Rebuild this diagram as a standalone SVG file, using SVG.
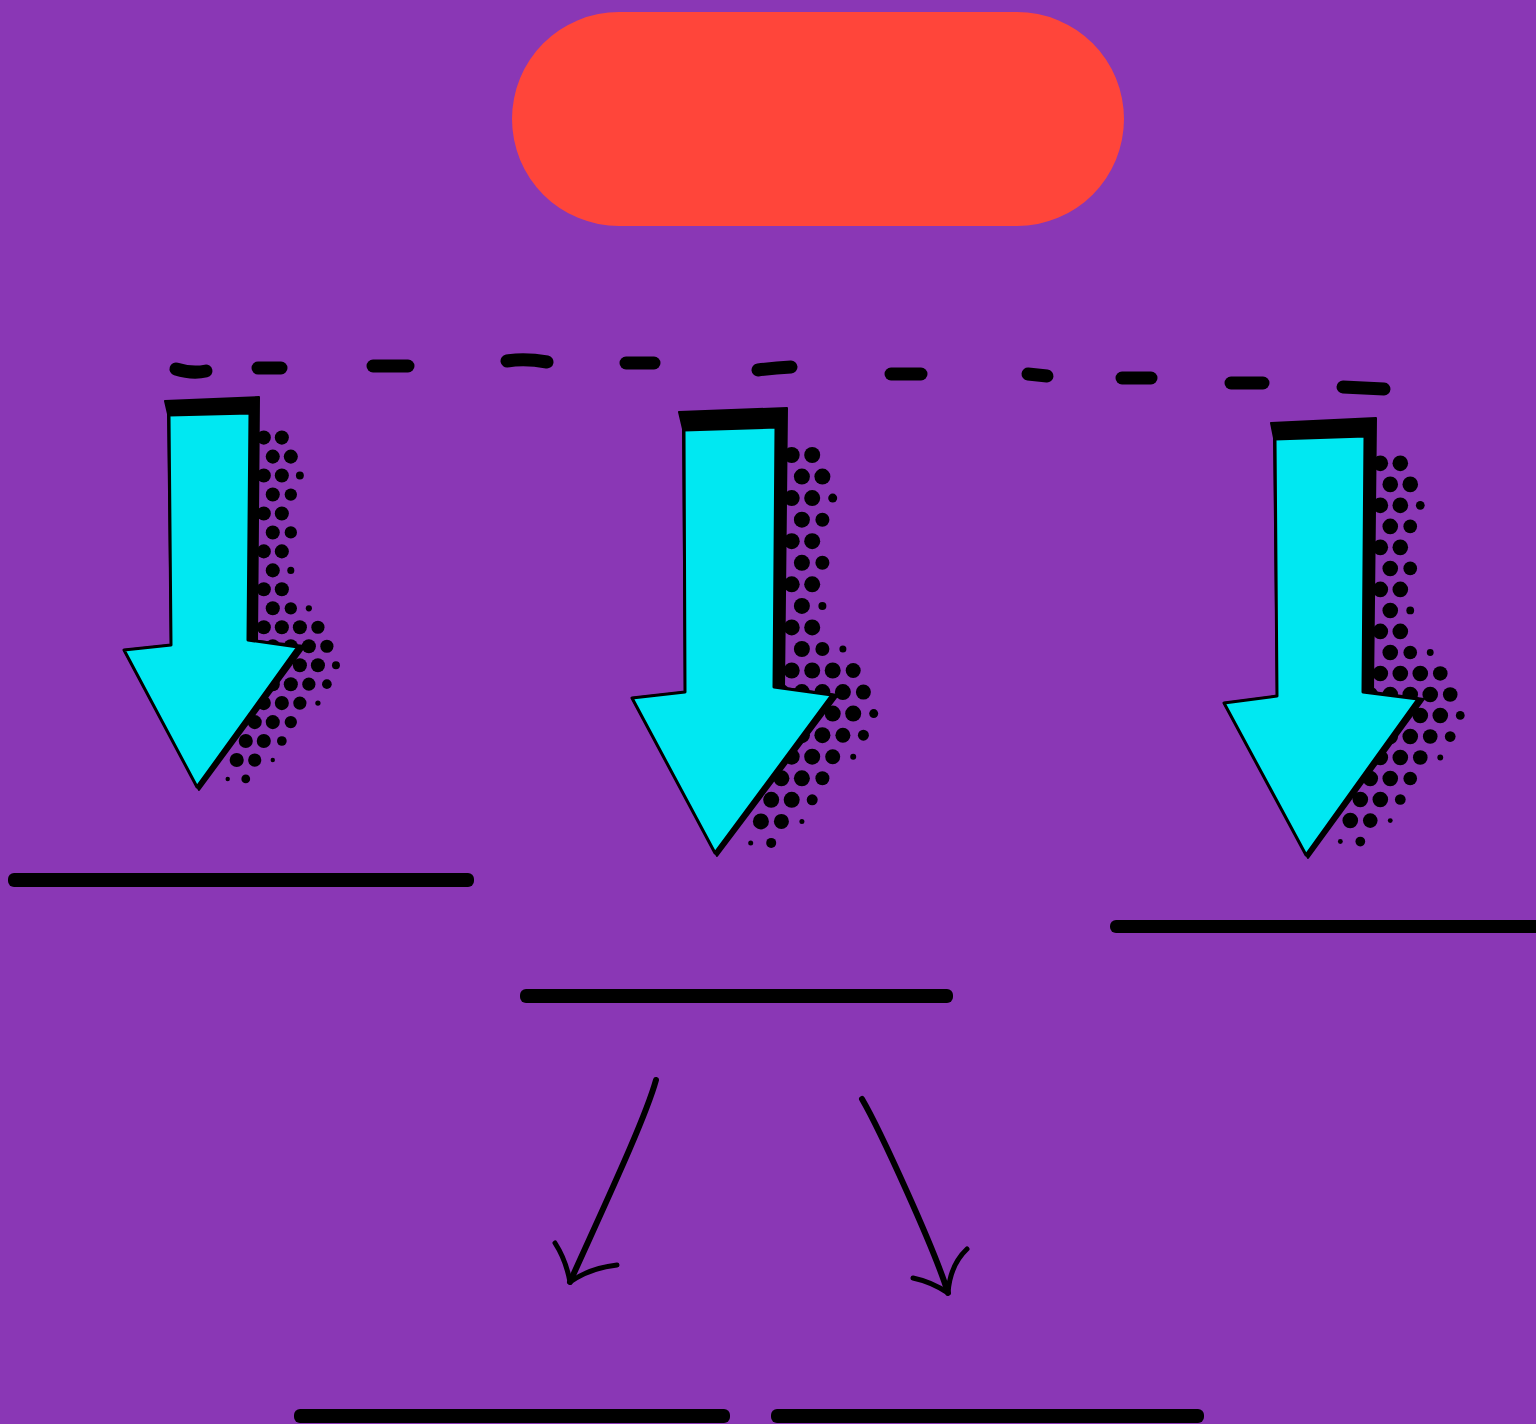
<svg xmlns="http://www.w3.org/2000/svg" xmlns:xlink="http://www.w3.org/1999/xlink" width="1536" height="1424" viewBox="0 0 1536 1424">
<style>
.bar{fill:#000}
.dash{fill:none;stroke:#000;stroke-width:13;stroke-linecap:round}
.back{fill:#000;stroke:#000;stroke-width:2;stroke-linejoin:round}
.cyan{fill:#00E8F2;stroke:#000;stroke-width:3;stroke-linejoin:round}
.ink{fill:none;stroke:#000;stroke-width:6;stroke-linecap:round;stroke-linejoin:round}
.inkb{fill:none;stroke:#000;stroke-width:5;stroke-linecap:round;stroke-linejoin:round}
</style>
<defs>
<g id="dots" fill="#000">
<circle cx="791.7" cy="455" r="8"/><circle cx="812.2" cy="455" r="8"/>
<circle cx="801.9" cy="476.6" r="8"/><circle cx="822.4" cy="476.6" r="8"/>
<circle cx="791.7" cy="498.1" r="8"/><circle cx="812.2" cy="498.1" r="8"/><circle cx="832.7" cy="498.1" r="4.5"/>
<circle cx="801.9" cy="519.7" r="8"/><circle cx="822.4" cy="519.7" r="7"/>
<circle cx="791.7" cy="541.2" r="8"/><circle cx="812.2" cy="541.2" r="8"/>
<circle cx="801.9" cy="562.8" r="8"/><circle cx="822.4" cy="562.8" r="7"/>
<circle cx="791.7" cy="584.3" r="8"/><circle cx="812.2" cy="584.3" r="8"/>
<circle cx="801.9" cy="605.9" r="8"/><circle cx="822.4" cy="605.9" r="4"/>
<circle cx="791.7" cy="627.4" r="8"/><circle cx="812.2" cy="627.4" r="8"/>
<circle cx="801.9" cy="649" r="8"/><circle cx="822.4" cy="649" r="7"/><circle cx="842.9" cy="649" r="3.5"/>
<circle cx="791.7" cy="670.5" r="8"/><circle cx="812.2" cy="670.5" r="8"/><circle cx="832.7" cy="670.5" r="8"/><circle cx="853.2" cy="670.5" r="7.5"/>
<circle cx="781.4" cy="692.1" r="8"/><circle cx="801.9" cy="692.1" r="8"/><circle cx="822.4" cy="692.1" r="8"/><circle cx="842.9" cy="692.1" r="8"/><circle cx="863.4" cy="692.1" r="7.5"/>
<circle cx="812.2" cy="713.6" r="8"/><circle cx="832.7" cy="713.6" r="8"/><circle cx="853.2" cy="713.6" r="8"/><circle cx="873.7" cy="713.6" r="4.5"/>
<circle cx="801.9" cy="735.2" r="8"/><circle cx="822.4" cy="735.2" r="8"/><circle cx="842.9" cy="735.2" r="7.5"/><circle cx="863.4" cy="735.2" r="5.5"/>
<circle cx="791.7" cy="756.7" r="8"/><circle cx="812.2" cy="756.7" r="8"/><circle cx="832.7" cy="756.7" r="7.5"/><circle cx="853.2" cy="756.7" r="3"/>
<circle cx="781.4" cy="778.3" r="8"/><circle cx="801.9" cy="778.3" r="8"/><circle cx="822.4" cy="778.3" r="7"/>
<circle cx="771.2" cy="799.8" r="8"/><circle cx="791.7" cy="799.8" r="8"/><circle cx="812.2" cy="799.8" r="5.5"/>
<circle cx="760.9" cy="821.4" r="8"/><circle cx="781.4" cy="821.4" r="7.5"/><circle cx="801.9" cy="821.4" r="2.5"/>
<circle cx="750.7" cy="842.9" r="2.5"/><circle cx="771.2" cy="842.9" r="5"/>
</g>
</defs>
<rect width="1536" height="1424" fill="#8A37B5"/>
<g id="pill">
<rect x="512" y="12" width="612" height="214" rx="107" fill="#FF453A"/>
</g>
<g id="divider">
<path class="dash" d="M176,369 Q192,374 206,371"/>
<path class="dash" d="M258,368 L281,368"/>
<path class="dash" d="M373,366 L408,366"/>
<path class="dash" d="M507,361 Q525,358 547,362"/>
<path class="dash" d="M626,363 L654,363"/>
<path class="dash" d="M758,370 Q775,368 791,367"/>
<path class="dash" d="M891,374 L921,374"/>
<path class="dash" d="M1028,374 L1047,376"/>
<path class="dash" d="M1122,378 L1151,378"/>
<path class="dash" d="M1231,383 L1263,383"/>
<path class="dash" d="M1343,387 L1384,389"/>
</g>
<g id="arrow-1">
<use xlink:href="#dots" href="#dots" transform="matrix(0.88 0 0 0.88 -432.9 37.2)"/>
<polygon class="back" points="165,401 259,397 257,641 305,646 199,790 124,650 171,645 168,414"/>
<polygon class="cyan" points="169,415 250,413 248,640 298,647 197,787 124,650 171,645"/>
</g>
<g id="arrow-2">
<use xlink:href="#dots" href="#dots"/>
<polygon class="back" points="679,412 787,408 784,688 838,695 717,856 632,698 685,692 683,429"/>
<polygon class="cyan" points="684,430 776,427 774,687 832,695 715,853 632,698 685,692"/>
</g>
<g id="arrow-3">
<use xlink:href="#dots" href="#dots" transform="matrix(0.975 0 0 0.975 608.4 19.7)"/>
<polygon class="back" points="1271,423 1376,418 1373,692 1424,699 1308,858 1224,703 1277,696 1274,438"/>
<polygon class="cyan" points="1275,439 1365,436 1363,692 1418,699 1306,855 1224,703 1277,696"/>
</g>
<g id="line-left"><rect class="bar" x="8" y="873" width="466" height="14" rx="6"/></g>
<g id="line-middle"><rect class="bar" x="520" y="989" width="433" height="14" rx="6"/></g>
<g id="line-right"><rect class="bar" x="1110" y="920" width="440" height="13" rx="6"/></g>
<g id="line-bottom-left"><rect class="bar" x="294" y="1409" width="436" height="14" rx="6"/></g>
<g id="line-bottom-right"><rect class="bar" x="771" y="1409" width="433" height="14" rx="6"/></g>
<g id="connectors">
<path class="ink" d="M656,1080 C645,1120 600,1215 570,1282"/>
<path class="inkb" d="M555,1243 Q566,1260 570,1282 Q590,1268 617,1265"/>
<path class="ink" d="M862,1099 C880,1130 935,1250 948,1293"/>
<path class="inkb" d="M967,1249 Q950,1265 948,1293 Q932,1282 913,1278"/>
</g>
</svg>
